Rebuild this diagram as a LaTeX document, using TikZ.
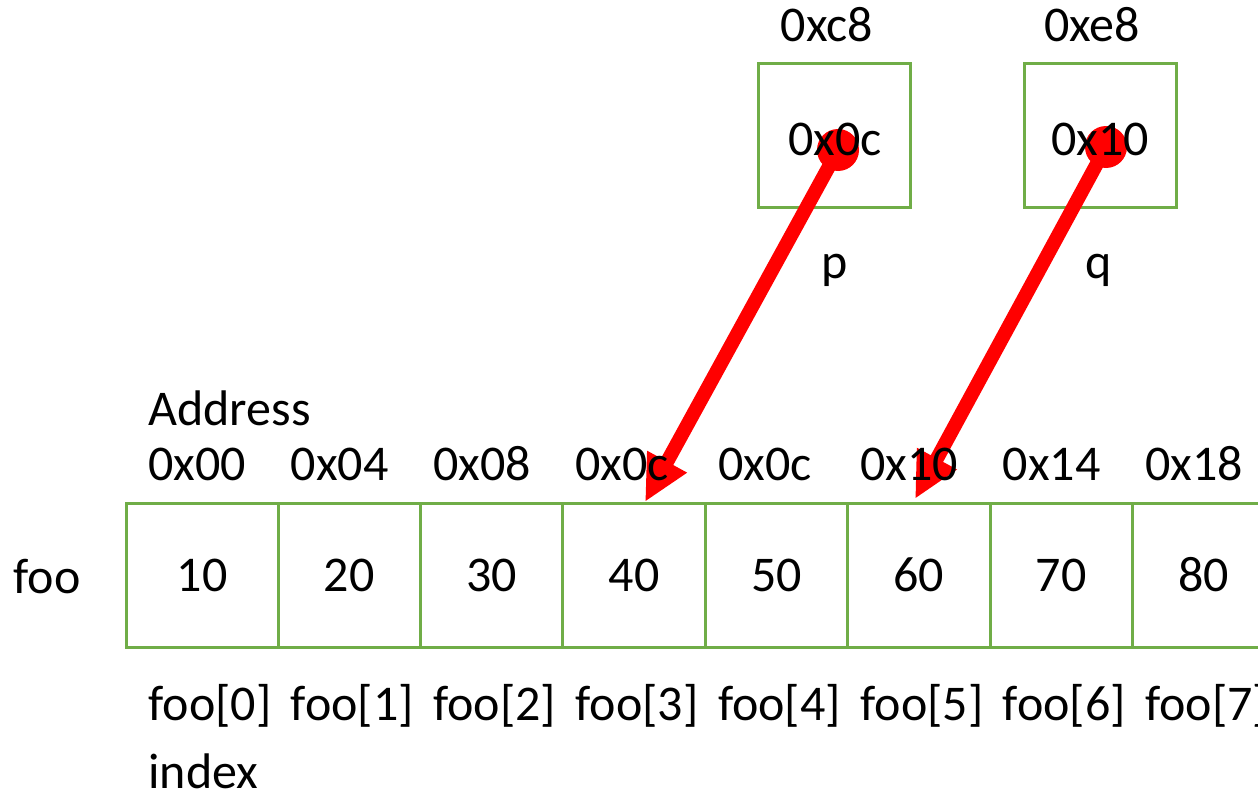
\documentclass[tikz,border=0pt]{standalone}
\usepackage{fontspec}
\setmainfont{Carlito}
\usetikzlibrary{arrows.meta}
\definecolor{boxgreen}{HTML}{70AD47}
\tikzset{
  memcell/.style={draw=boxgreen,line width=1.5pt,minimum height=72pt,inner sep=0pt},
  txt/.style={font=\fontsize{25}{30}\selectfont,inner sep=0pt},
  pointer/.style={red,line width=7pt,-{Triangle[length=23pt,width=21pt]}}
}
\begin{document}
\begin{tikzpicture}[x=0.5pt,y=-0.5pt]
\useasboundingbox (0,0) rectangle (1258,792);

% array cells
\node[txt,anchor=base] (foo) at (47,593) {foo};
\foreach \i/\v/\x/\w in {0/10/202/76pt,1/20/349.2/71.2pt,2/30/491.6/71.2pt,3/40/634/71.2pt,
  4/50/776.4/71.2pt,5/60/918.8/71.2pt,6/70/1061.2/71.2pt,7/80/1203.6/71.2pt}
  \node[memcell,txt,minimum width=\w] (c\i) at (\x,575) {\v};

% pointer variables
\node[memcell,minimum width=76pt] (p) at (834,135.5) {};
\node[memcell,minimum width=76pt] (q) at (1100,135.5) {};

\coordinate (ptail) at (838,150);
\coordinate (phead) at (645,502);
\coordinate (qtail) at (1106,147);
\coordinate (qhead) at (915,499);
\draw[pointer] (ptail) -- (phead);
\draw[pointer] (qtail) -- (qhead);
\fill[red] (ptail) circle (21);
\fill[red] (qtail) circle (21);

\node[txt] at (835,139) {0x0c};
\node[txt] at (1100,139) {0x10};
\node[txt,anchor=base] at (827,42) {0xc8};
\node[txt,anchor=base] at (1092,42) {0xe8};
\node[txt,anchor=base] at (835,278) {p};
\node[txt,anchor=base] at (1099,278) {q};

% addresses and indices
\node[txt,anchor=base west] at (148,425) {Address};
\foreach \a [count=\i from 0] in {0x00,0x04,0x08,0x0c,0x0c,0x10,0x14,0x18}
  \node[txt,anchor=base west] (a\i) at ({148+142.4*\i},480) {\a};
\foreach \i in {0,...,7}
  \node[txt,anchor=base west] (ix\i) at ({148+142.4*\i},720) {foo[\i]};
\node[txt,anchor=base west] at (148,788) {index};
\end{tikzpicture}
\end{document}
